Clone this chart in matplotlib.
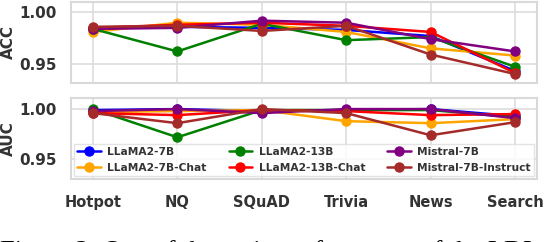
import matplotlib
matplotlib.use("Agg")
import matplotlib.pyplot as plt
import seaborn as sns

datasets = ["Hotpot", "NQ", "SQuAD", "Trivia", "News", "Search"]
models = ["LLaMA2-7B", "LLaMA2-7B-Chat", "LLaMA2-13B", "LLaMA2-13B-Chat", "Mistral-7B", "Mistral-7B-Instruct"]
colors = ["blue", "orange", "green", "red", "purple", "brown"]

acc = {
    "LLaMA2-7B":           [0.985, 0.986, 0.985, 0.983, 0.977, 0.943],
    "LLaMA2-7B-Chat":      [0.981, 0.990, 0.988, 0.981, 0.965, 0.958],
    "LLaMA2-13B":          [0.984, 0.962, 0.989, 0.973, 0.976, 0.947],
    "LLaMA2-13B-Chat":     [0.985, 0.988, 0.990, 0.987, 0.981, 0.941],
    "Mistral-7B":          [0.984, 0.985, 0.992, 0.990, 0.974, 0.962],
    "Mistral-7B-Instruct": [0.986, 0.987, 0.982, 0.987, 0.959, 0.940],
}
auc = {
    "LLaMA2-7B":           [0.999, 1.000, 0.998, 0.999, 1.000, 0.993],
    "LLaMA2-7B-Chat":      [0.997, 0.998, 0.999, 0.988, 0.986, 0.990],
    "LLaMA2-13B":          [1.000, 0.972, 0.999, 0.999, 0.999, 0.992],
    "LLaMA2-13B-Chat":     [0.996, 0.994, 0.999, 0.998, 0.994, 0.995],
    "Mistral-7B":          [0.998, 1.000, 0.996, 1.000, 1.000, 0.991],
    "Mistral-7B-Instruct": [0.996, 0.986, 1.000, 0.996, 0.974, 0.987],
}
yticks = [0.95, 1.00]
caption = "Figure 2: One of the main performance of the LDI"

sns.set_theme(style="whitegrid")
plt.rcParams['font.family'] = ['DejaVu Sans']

fig = plt.figure(figsize=(5.58, 2.42), dpi=100)
ax1 = fig.add_axes([0.1272, 0.656, 0.8352, 0.337])
ax2 = fig.add_axes([0.1272, 0.262, 0.8352, 0.331])

x = list(range(len(datasets)))
for ax, data, lab in [(ax1, acc, "ACC"), (ax2, auc, "AUC")]:
    for m, c in zip(models, colors):
        ax.plot(x, data[m], color=c, marker="o", markersize=6.5, linewidth=1.8, label=m)
    ax.set_xlim(-0.26, 5.26)
    ax.set_ylim(0.931, 1.0105)
    ax.set_yticks(yticks)
    ax.set_yticklabels([f"{v:.2f}" for v in yticks], fontweight="bold", fontsize=11, color="#333333")
    ax.set_xticks(x)
    ax.set_ylabel(lab, fontweight="bold", fontsize=11, color="#333333")
    ax.yaxis.set_label_coords(-0.118, 0.5)
    ax.tick_params(axis="y", pad=4)
    ax.tick_params(axis="x", pad=6)
    for s in ax.spines.values():
        s.set_color("#d9d9d9")
        s.set_linewidth(1.5)
    ax.grid(color="#dddddd", linewidth=1.2)

ax1.set_xticklabels([])
ax2.set_xticklabels(datasets, fontweight="bold", fontsize=10.5, color="#333333")

leg = ax2.legend(loc="lower left", bbox_to_anchor=(0.004, 0.02, 0.992, 0.4), mode="expand",
                 ncol=3, prop={"weight": "bold", "size": 7.7}, handlelength=2.2,
                 borderaxespad=0.1, labelspacing=0.55, columnspacing=1.0, handletextpad=0.6,
                 borderpad=0.3, framealpha=0.8, fancybox=False)
for t in leg.get_texts():
    t.set_color("#333333")
leg.get_frame().set_edgecolor("#dddddd")

fig.text(0.0, -0.068, caption, family="Liberation Serif", fontsize=19, color="black",
         ha="left", va="baseline")

fig.savefig("out.png", dpi=100)
